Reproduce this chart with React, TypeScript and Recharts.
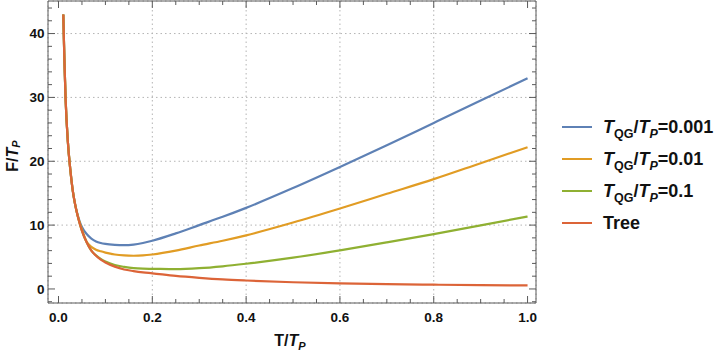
import { LineChart, Line, XAxis, YAxis, CartesianGrid, Label } from 'recharts'

// temperature T/T_P
const temps = [
  0.0102, 0.0125, 0.015, 0.02, 0.025, 0.03, 0.035, 0.04, 0.045, 0.05, 0.06, 0.07, 0.08, 0.09, 0.1,
  0.12, 0.14, 0.16, 0.18, 0.2, 0.25, 0.3, 0.35, 0.4, 0.5, 0.6, 0.7, 0.8, 0.9, 1.0,
]

// F/T_P for each curve
const fQG0001 = [
  43, 36, 30, 23, 18.8, 15.6, 13.4, 11.8, 10.6, 9.7, 8.6, 7.9, 7.45, 7.2, 7.05,
  6.9, 6.85, 6.95, 7.2, 7.55, 8.7, 10.0, 11.3, 12.7, 15.8, 19.1, 22.5, 26.0, 29.5, 33.0,
]
const fQG001 = [
  43, 36, 30, 23, 18.8, 15.6, 13.4, 11.75, 10.4, 9.3, 7.4, 6.6, 6.15, 5.9, 5.7,
  5.4, 5.25, 5.2, 5.25, 5.4, 6.0, 6.8, 7.55, 8.4, 10.4, 12.6, 14.9, 17.2, 19.7, 22.2,
]
const fQG01 = [
  43, 36, 30, 23, 18.8, 15.6, 13.4, 11.7, 10.3, 9.1, 7.3, 6.0, 5.25, 4.7, 4.3,
  3.75, 3.45, 3.25, 3.17, 3.15, 3.1, 3.25, 3.55, 3.95, 4.9, 6.05, 7.3, 8.6, 9.95, 11.35,
]
const fTree = [
  43, 36, 30, 23, 18.8, 15.6, 13.4, 11.7, 10.3, 9.1, 7.3, 6.0, 5.2, 4.6, 4.15,
  3.5, 3.05, 2.8, 2.6, 2.45, 2.05, 1.75, 1.5, 1.32, 1.05, 0.87, 0.75, 0.67, 0.6, 0.55,
]

const xTicks = [
  0, 0.05, 0.1, 0.15, 0.2, 0.25, 0.3, 0.35, 0.4, 0.45, 0.5, 0.55, 0.6, 0.65, 0.7, 0.75, 0.8,
  0.85, 0.9, 0.95, 1.0,
]
const xLabels = [0, 0.2, 0.4, 0.6, 0.8, 1.0]
const yTicks = [
  -2, 0, 2, 4, 6, 8, 10, 12, 14, 16, 18, 20, 22, 24, 26, 28, 30, 32, 34, 36, 38, 40, 42, 44,
]
const yLabels = [0, 10, 20, 30, 40]
const gridX = [0.2, 0.4, 0.6, 0.8]
const gridY = [10, 20, 30, 40]

const xDomain = [-0.0224, 1.018]
const yDomain = [-2.2, 45.1]

const series = [
  { key: 'q0001', color: '#5e81b5', values: fQG0001, label: '0.001' },
  { key: 'q001', color: '#e19c24', values: fQG001, label: '0.01' },
  { key: 'q01', color: '#8fb032', values: fQG01, label: '0.1' },
  { key: 'tree', color: '#dc6438', values: fTree, label: null },
]

const data = temps.map((t, i) => {
  const row: Record<string, number> = { t }
  series.forEach((s) => (row[s.key] = s.values[i]))
  return row
})

const FONT = '"Liberation Sans", Arial, sans-serif'
const FRAME = '#5a5a5a'

const isIn = (list: number[], v: number) => list.some((m) => Math.abs(m - v) < 1e-9)

function FrameTick(props: any) {
  const { x, y, payload, side } = props
  const v = payload.value
  const major = side === 'bottom' || side === 'top' ? isIn(xLabels, v) : isIn(yLabels, v)
  const len = major ? 7 : 4
  let line
  let text = null
  if (side === 'bottom') {
    line = <line x1={x} y1={y} x2={x} y2={y - len} stroke={FRAME} />
    if (major)
      text = (
        <text x={x} y={y + 19} textAnchor="middle" fontSize={13.5} fontWeight="bold" fill="#111" fontFamily={FONT}>
          {v.toFixed(1)}
        </text>
      )
  } else if (side === 'top') {
    line = <line x1={x} y1={y} x2={x} y2={y + len} stroke={FRAME} />
  } else if (side === 'left') {
    line = <line x1={x} y1={y} x2={x + len} y2={y} stroke={FRAME} />
    if (major)
      text = (
        <text x={x - 3.5} y={y} dy="0.36em" textAnchor="end" fontSize={13.5} fontWeight="bold" fill="#111" fontFamily={FONT}>
          {v}
        </text>
      )
  } else {
    line = <line x1={x} y1={y} x2={x - len} y2={y} stroke={FRAME} />
  }
  return (
    <g>
      {line}
      {text}
    </g>
  )
}

function XTitle(props: any) {
  const vb = props.viewBox || { x: 48, y: 303, width: 488, height: 50 }
  const cx = vb.x + vb.width / 2
  return (
    <text x={cx - 2} y={vb.y + 43} textAnchor="middle" fontSize={16} fontWeight="bold" fill="#111" fontFamily={FONT}>
      T/<tspan fontStyle="italic">T</tspan>
      <tspan fontStyle="italic" fontSize={11} dy={4}>P</tspan>
    </text>
  )
}

function YTitle(props: any) {
  const vb = props.viewBox || { x: 0, y: 1, width: 48, height: 302 }
  const cx = 12
  const cy = vb.y + vb.height / 2 + 4
  return (
    <text
      x={cx}
      y={cy}
      transform={`rotate(-90, ${cx}, ${cy})`}
      textAnchor="middle"
      dominantBaseline="central"
      fontSize={16}
      fontWeight="bold"
      fill="#111"
      fontFamily={FONT}
    >
      F/<tspan fontStyle="italic">T</tspan>
      <tspan fontStyle="italic" fontSize={11} dy={4}>P</tspan>
    </text>
  )
}

function LegendBox() {
  const sub = { fontSize: 12.5, position: 'relative' as const, top: 5 }
  return (
    <div style={{ position: 'absolute', left: 562, top: 111, fontFamily: FONT, fontWeight: 'bold', fontSize: 18, color: '#111' }}>
      {series.map((s) => (
        <div key={s.key} style={{ display: 'flex', alignItems: 'center', height: 32, whiteSpace: 'nowrap' }}>
          <div style={{ width: 30, height: 2.2, background: s.color, marginRight: 11 }} />
          {s.label ? (
            <span>
              <i>T</i>
              <span style={sub}>QG</span>/<i>T</i>
              <i style={sub}>P</i>={s.label}
            </span>
          ) : (
            <span>Tree</span>
          )}
        </div>
      ))}
    </div>
  )
}

export default function App() {
  return (
    <div style={{ position: 'absolute', left: 0, top: 0, width: 722, height: 354, background: '#fff' }}>
      <LineChart width={722} height={354} data={data} margin={{ top: 0, right: 185, bottom: 1, left: 0 }}>
        <XAxis xAxisId="g" dataKey="t" type="number" domain={xDomain} ticks={gridX} allowDataOverflow hide />
        <YAxis yAxisId="g" type="number" domain={yDomain} ticks={gridY} allowDataOverflow hide />
        <CartesianGrid xAxisId="g" yAxisId="g" stroke="#b4b4b4" strokeDasharray="1.5 3" />
        <XAxis
          dataKey="t"
          type="number"
          domain={xDomain}
          ticks={xTicks}
          interval={0}
          allowDataOverflow
          height={50}
          tickSize={0}
          tickMargin={0}
          tickLine={false}
          axisLine={{ stroke: FRAME }}
          tick={<FrameTick side="bottom" />}
          label={<Label content={XTitle} />}
        />
        <XAxis
          xAxisId="top"
          orientation="top"
          dataKey="t"
          type="number"
          domain={xDomain}
          ticks={xTicks}
          interval={0}
          allowDataOverflow
          height={1}
          tickSize={0}
          tickMargin={0}
          tickLine={false}
          axisLine={{ stroke: FRAME }}
          tick={<FrameTick side="top" />}
        />
        <YAxis
          type="number"
          domain={yDomain}
          ticks={yTicks}
          interval={0}
          allowDataOverflow
          width={48}
          tickSize={0}
          tickMargin={0}
          tickLine={false}
          axisLine={{ stroke: FRAME }}
          tick={<FrameTick side="left" />}
          label={<Label content={YTitle} />}
        />
        <YAxis
          yAxisId="right"
          orientation="right"
          type="number"
          domain={yDomain}
          ticks={yTicks}
          interval={0}
          allowDataOverflow
          width={1}
          tickSize={0}
          tickMargin={0}
          tickLine={false}
          axisLine={{ stroke: FRAME }}
          tick={<FrameTick side="right" />}
        />
        {series.map((s) => (
          <Line
            key={s.key}
            dataKey={s.key}
            type="monotone"
            stroke={s.color}
            strokeWidth={2.2}
            dot={false}
            isAnimationActive={false}
          />
        ))}
      </LineChart>
      <LegendBox />
    </div>
  )
}
